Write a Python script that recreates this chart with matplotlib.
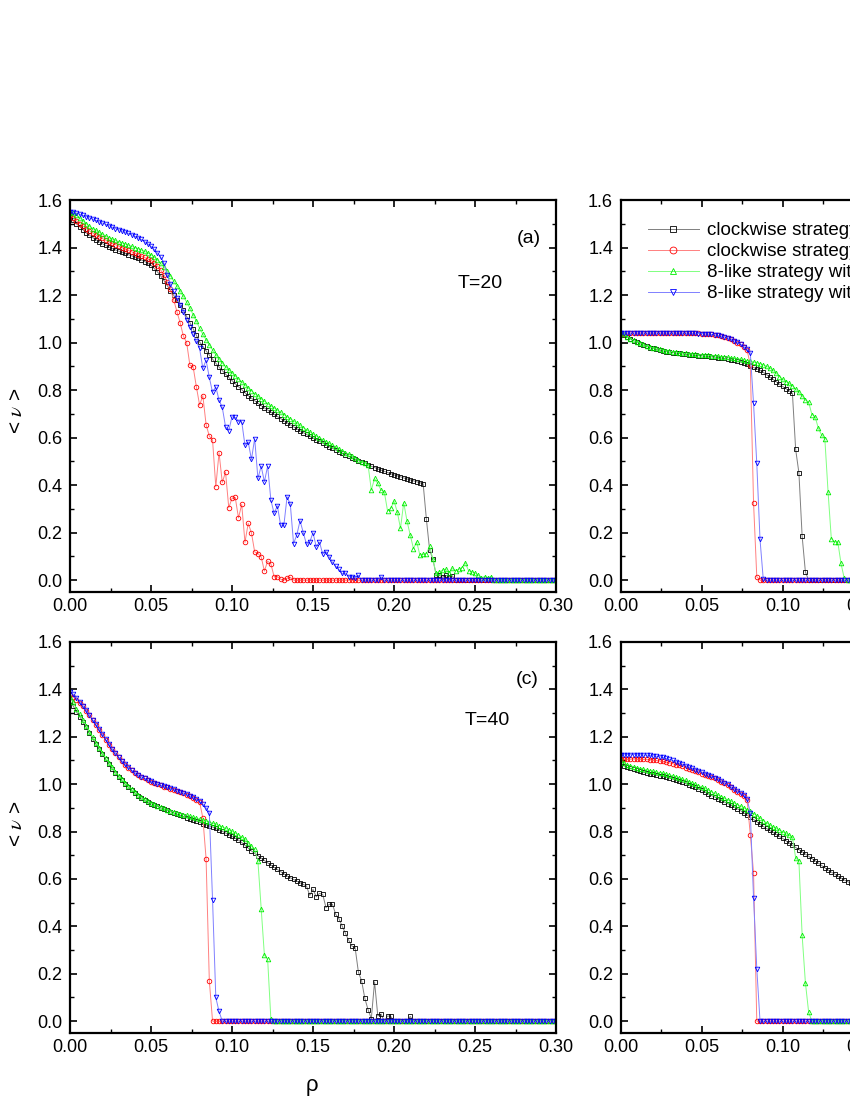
import numpy as np
import matplotlib
matplotlib.use("Agg")
import matplotlib.pyplot as plt
from matplotlib.ticker import MultipleLocator, FormatStrFormatter

plt.rcParams['font.family'] = ['Liberation Sans', 'DejaVu Sans']
plt.rcParams['mathtext.fontset'] = 'stix'

# density grid (step 0.002); right-hand panels are only visible up to ~0.14
rho = np.linspace(0.0, 0.30, 151)
rho_r = rho[:72]

labels = ['clockwise strategy without prediction',
          'clockwise strategy with prediction',
          '8-like strategy without prediction',
          '8-like strategy with prediction']

# ---- panel (a), T=20
black_a = [1.530, 1.515, 1.500, 1.488, 1.475, 1.462, 1.452, 1.442, 1.433, 1.424,
           1.416, 1.409, 1.402, 1.396, 1.390, 1.385, 1.380, 1.375, 1.370, 1.365,
           1.360, 1.354, 1.348, 1.341, 1.334, 1.325, 1.312, 1.297, 1.280, 1.261,
           1.240, 1.219, 1.199, 1.178, 1.157, 1.135, 1.110, 1.084, 1.058, 1.030,
           1.003, 0.984, 0.965, 0.947, 0.930, 0.913, 0.897, 0.882, 0.867, 0.853,
           0.840, 0.827, 0.814, 0.802, 0.789, 0.777, 0.766, 0.755, 0.745, 0.735,
           0.725, 0.716, 0.707, 0.698, 0.689, 0.680, 0.671, 0.663, 0.654, 0.645,
           0.637, 0.629, 0.621, 0.613, 0.606, 0.598, 0.591, 0.584, 0.577, 0.569,
           0.562, 0.555, 0.548, 0.541, 0.535, 0.528, 0.522, 0.516, 0.509, 0.503,
           0.497, 0.491, 0.485, 0.479, 0.474, 0.468, 0.463, 0.458, 0.453, 0.448,
           0.443, 0.439, 0.435, 0.430, 0.426, 0.422, 0.418, 0.414, 0.410, 0.405,
           0.256, 0.126, 0.088, 0.021, 0.020, 0.012, 0.020, 0.015, 0.018] + [0.0] * 32
red_a = [1.537, 1.525, 1.512, 1.500, 1.490, 1.480, 1.470, 1.461, 1.453, 1.445,
         1.438, 1.431, 1.424, 1.418, 1.412, 1.406, 1.400, 1.394, 1.388, 1.382,
         1.376, 1.370, 1.364, 1.358, 1.352, 1.346, 1.336, 1.322, 1.305, 1.285,
         1.255, 1.225, 1.180, 1.130, 1.083, 1.027, 1.000, 0.905, 0.898, 0.814,
         0.737, 0.776, 0.655, 0.606, 0.589, 0.393, 0.536, 0.411, 0.455, 0.305,
         0.344, 0.348, 0.262, 0.319, 0.159, 0.239, 0.199, 0.119, 0.112, 0.098,
         0.038, 0.080, 0.069, 0.014, 0.015, 0.004, 0.0, 0.008, 0.012] + [0.0] * 82
green_a = [1.550, 1.545, 1.535, 1.525, 1.512, 1.500, 1.490, 1.480, 1.472, 1.464,
           1.456, 1.449, 1.442, 1.436, 1.430, 1.425, 1.420, 1.415, 1.410, 1.405,
           1.400, 1.395, 1.390, 1.384, 1.377, 1.370, 1.360, 1.347, 1.333, 1.318,
           1.300, 1.280, 1.259, 1.238, 1.216, 1.194, 1.170, 1.145, 1.118, 1.090,
           1.060, 1.035, 1.012, 0.990, 0.969, 0.949, 0.931, 0.914, 0.899, 0.885,
           0.872, 0.859, 0.846, 0.834, 0.821, 0.808, 0.797, 0.785, 0.774, 0.763,
           0.753, 0.743, 0.734, 0.725, 0.716, 0.706, 0.697, 0.688, 0.679, 0.670,
           0.660, 0.651, 0.642, 0.633, 0.624, 0.615, 0.607, 0.599, 0.591, 0.583,
           0.576, 0.568, 0.561, 0.553, 0.545, 0.537, 0.530, 0.522, 0.514, 0.506,
           0.498, 0.492, 0.484, 0.379, 0.428, 0.407, 0.379, 0.372, 0.292, 0.302,
           0.333, 0.288, 0.218, 0.326, 0.250, 0.190, 0.133, 0.161, 0.105, 0.108,
           0.112, 0.143, 0.088, 0.028, 0.035, 0.042, 0.045, 0.030, 0.049, 0.040,
           0.045, 0.053, 0.073, 0.040, 0.035, 0.030, 0.020, 0.010, 0.015, 0.010,
           0.015] + [0.0] * 20
blue_a = [1.550, 1.548, 1.545, 1.540, 1.535, 1.530, 1.525, 1.520, 1.514, 1.508,
          1.503, 1.498, 1.492, 1.486, 1.480, 1.475, 1.470, 1.465, 1.460, 1.454,
          1.448, 1.441, 1.434, 1.425, 1.416, 1.405, 1.392, 1.377, 1.360, 1.335,
          1.285, 1.245, 1.215, 1.188, 1.160, 1.128, 1.095, 1.065, 1.035, 1.005,
          0.975, 0.891, 0.926, 0.853, 0.790, 0.814, 0.758, 0.727, 0.646, 0.629,
          0.688, 0.685, 0.667, 0.667, 0.568, 0.582, 0.508, 0.596, 0.428, 0.480,
          0.414, 0.480, 0.337, 0.281, 0.313, 0.232, 0.230, 0.351, 0.319, 0.154,
          0.190, 0.250, 0.200, 0.150, 0.160, 0.200, 0.140, 0.160, 0.110, 0.120,
          0.098, 0.075, 0.059, 0.045, 0.028, 0.030, 0.015, 0.015, 0.010, 0.020,
          0.0, 0.0, 0.0, 0.0, 0.0, 0.0, 0.014] + [0.0] * 54

# ---- panel (b)
black_b = [1.040, 1.030, 1.022, 1.015, 1.008, 1.002, 0.995, 0.989, 0.984, 0.979,
           0.975, 0.971, 0.968, 0.965, 0.962, 0.960, 0.958, 0.956, 0.954, 0.952,
           0.950, 0.949, 0.948, 0.946, 0.945, 0.944, 0.943, 0.942, 0.940, 0.939,
           0.937, 0.935, 0.933, 0.930, 0.928, 0.925, 0.922, 0.918, 0.914, 0.908,
           0.900, 0.895, 0.889, 0.883, 0.875, 0.865, 0.855, 0.845, 0.835, 0.825,
           0.815, 0.806, 0.797, 0.786, 0.550, 0.452, 0.185, 0.035] + [0.0] * 14
red_b = [1.035, 1.038, 1.040, 1.040, 1.041, 1.040, 1.040, 1.041, 1.040, 1.040,
         1.040, 1.041, 1.040, 1.040, 1.040, 1.040, 1.041, 1.040, 1.040, 1.040,
         1.040, 1.040, 1.039, 1.039, 1.039, 1.038, 1.037, 1.036, 1.034, 1.032,
         1.030, 1.027, 1.024, 1.020, 1.015, 1.008, 1.000, 0.992, 0.982, 0.970,
         0.905, 0.326, 0.014] + [0.0] * 29
green_b = [1.045, 1.035, 1.025, 1.017, 1.010, 1.004, 0.998, 0.992, 0.987, 0.982,
           0.978, 0.975, 0.972, 0.969, 0.966, 0.964, 0.962, 0.960, 0.958, 0.956,
           0.954, 0.953, 0.952, 0.950, 0.949, 0.948, 0.947, 0.946, 0.945, 0.944,
           0.943, 0.941, 0.940, 0.938, 0.936, 0.934, 0.932, 0.930, 0.927, 0.924,
           0.921, 0.918, 0.915, 0.911, 0.906, 0.900, 0.893, 0.883, 0.870, 0.857,
           0.845, 0.836, 0.828, 0.818, 0.804, 0.790, 0.775, 0.758, 0.750, 0.697,
           0.688, 0.639, 0.611, 0.596, 0.372, 0.175, 0.161, 0.161, 0.070, 0.007,
           0.0, 0.0]
blue_b = [1.040, 1.040, 1.041, 1.040, 1.040, 1.041, 1.040, 1.040, 1.040, 1.041,
          1.040, 1.040, 1.040, 1.040, 1.041, 1.040, 1.040, 1.040, 1.040, 1.040,
          1.040, 1.039, 1.039, 1.039, 1.038, 1.038, 1.037, 1.036, 1.034, 1.032,
          1.030, 1.027, 1.024, 1.020, 1.015, 1.008, 1.001, 0.993, 0.983, 0.971,
          0.957, 0.744, 0.491, 0.171, 0.004] + [0.0] * 27

# ---- panel (c), T=40
black_c = [1.350, 1.330, 1.305, 1.285, 1.262, 1.240, 1.215, 1.192, 1.170, 1.148,
           1.127, 1.105, 1.085, 1.066, 1.049, 1.032, 1.016, 1.001, 0.988, 0.975,
           0.963, 0.952, 0.942, 0.933, 0.925, 0.918, 0.912, 0.906, 0.900, 0.895,
           0.889, 0.884, 0.879, 0.874, 0.869, 0.864, 0.859, 0.854, 0.849, 0.844,
           0.839, 0.834, 0.829, 0.824, 0.819, 0.813, 0.807, 0.801, 0.794, 0.787,
           0.780, 0.772, 0.764, 0.754, 0.742, 0.730, 0.718, 0.708, 0.698, 0.688,
           0.678, 0.668, 0.659, 0.649, 0.640, 0.631, 0.622, 0.613, 0.605, 0.598,
           0.591, 0.584, 0.577, 0.570, 0.531, 0.556, 0.525, 0.539, 0.535, 0.479,
           0.493, 0.493, 0.451, 0.432, 0.401, 0.371, 0.342, 0.317, 0.310, 0.208,
           0.170, 0.096, 0.048, 0.011, 0.166, 0.022, 0.030, 0.0, 0.022, 0.020,
           0.0, 0.0, 0.0, 0.0, 0.0, 0.020] + [0.0] * 45
red_c = [1.375, 1.368, 1.355, 1.342, 1.328, 1.310, 1.290, 1.270, 1.250, 1.230,
         1.208, 1.187, 1.167, 1.148, 1.130, 1.113, 1.097, 1.082, 1.069, 1.058,
         1.048, 1.039, 1.031, 1.024, 1.017, 1.011, 1.005, 1.000, 0.995, 0.990,
         0.986, 0.981, 0.977, 0.972, 0.967, 0.962, 0.956, 0.949, 0.942, 0.934,
         0.925, 0.858, 0.686, 0.170] + [0.0] * 107
green_c = [1.370, 1.345, 1.318, 1.295, 1.270, 1.247, 1.222, 1.198, 1.175, 1.153,
           1.132, 1.110, 1.090, 1.071, 1.053, 1.036, 1.020, 1.005, 0.991, 0.978,
           0.966, 0.955, 0.945, 0.936, 0.928, 0.921, 0.915, 0.909, 0.903, 0.898,
           0.893, 0.888, 0.884, 0.880, 0.876, 0.872, 0.868, 0.864, 0.860, 0.856,
           0.852, 0.848, 0.844, 0.840, 0.835, 0.830, 0.825, 0.820, 0.814, 0.808,
           0.801, 0.794, 0.786, 0.777, 0.767, 0.750, 0.738, 0.725, 0.675, 0.475,
           0.278, 0.261, 0.008] + [0.0] * 88
blue_c = [1.390, 1.380, 1.365, 1.348, 1.332, 1.313, 1.293, 1.272, 1.252, 1.231,
          1.210, 1.189, 1.169, 1.150, 1.132, 1.115, 1.099, 1.084, 1.071, 1.059,
          1.049, 1.040, 1.032, 1.025, 1.018, 1.012, 1.006, 1.001, 0.996, 0.991,
          0.987, 0.982, 0.978, 0.973, 0.968, 0.963, 0.957, 0.951, 0.944, 0.936,
          0.927, 0.916, 0.900, 0.879, 0.511, 0.100, 0.041] + [0.0] * 104

# ---- panel (d)
black_d = [1.090, 1.078, 1.071, 1.067, 1.062, 1.058, 1.054, 1.050, 1.047, 1.044,
           1.041, 1.038, 1.036, 1.033, 1.030, 1.026, 1.022, 1.017, 1.013, 1.008,
           1.003, 0.997, 0.992, 0.986, 0.980, 0.974, 0.967, 0.960, 0.952, 0.946,
           0.939, 0.932, 0.925, 0.918, 0.912, 0.904, 0.896, 0.888, 0.879, 0.870,
           0.861, 0.851, 0.841, 0.831, 0.822, 0.813, 0.805, 0.797, 0.788, 0.780,
           0.771, 0.761, 0.752, 0.742, 0.733, 0.724, 0.715, 0.705, 0.696, 0.686,
           0.677, 0.667, 0.657, 0.647, 0.638, 0.629, 0.621, 0.612, 0.604, 0.596,
           0.589, 0.582]
red_d = [1.105, 1.105, 1.106, 1.106, 1.107, 1.106, 1.106, 1.105, 1.105, 1.104,
         1.102, 1.100, 1.098, 1.096, 1.093, 1.090, 1.087, 1.083, 1.080, 1.075,
         1.070, 1.065, 1.060, 1.056, 1.051, 1.045, 1.040, 1.034, 1.029, 1.024,
         1.018, 1.011, 1.003, 0.996, 0.987, 0.977, 0.969, 0.960, 0.950, 0.935,
         0.787, 0.626] + [0.0] * 30
green_d = [1.100, 1.088, 1.082, 1.078, 1.074, 1.070, 1.066, 1.063, 1.060, 1.057,
           1.054, 1.051, 1.049, 1.046, 1.043, 1.039, 1.035, 1.031, 1.026, 1.021,
           1.016, 1.011, 1.005, 1.000, 0.994, 0.988, 0.982, 0.975, 0.968, 0.961,
           0.954, 0.948, 0.941, 0.934, 0.928, 0.921, 0.914, 0.907, 0.900, 0.893,
           0.885, 0.876, 0.867, 0.857, 0.846, 0.837, 0.828, 0.820, 0.813, 0.806,
           0.799, 0.792, 0.784, 0.776, 0.689, 0.675, 0.362, 0.163, 0.039] + [0.0] * 13
blue_d = [1.124, 1.124, 1.125, 1.124, 1.125, 1.124, 1.124, 1.123, 1.123, 1.122,
          1.120, 1.118, 1.116, 1.113, 1.109, 1.105, 1.100, 1.095, 1.089, 1.084,
          1.078, 1.072, 1.067, 1.061, 1.056, 1.050, 1.045, 1.039, 1.033, 1.028,
          1.022, 1.015, 1.007, 0.999, 0.990, 0.980, 0.972, 0.963, 0.954, 0.938,
          0.879, 0.521, 0.222] + [0.0] * 29

# marker, edge colour, line colour
styles = [('s', '#000000', '#7f7f7f'),
          ('o', '#ff0000', '#ff8080'),
          ('^', '#00ee00', '#80ff80'),
          ('v', '#0000ff', '#8080ff')]

fig = plt.figure(figsize=(8.5, 11), dpi=100)
W, H = 850.0, 1100.0
aw = 486 / W
ax_a = fig.add_axes([70 / W, 1 - 592 / H, aw, 392 / H])
ax_b = fig.add_axes([620.7 / W, 1 - 592 / H, aw, 392 / H])
ax_c = fig.add_axes([70 / W, 1 - 1033 / H, aw, 391 / H])
ax_d = fig.add_axes([620.7 / W, 1 - 1033 / H, aw, 391 / H])

panels = [(ax_a, rho, [black_a, red_a, green_a, blue_a]),
          (ax_b, rho_r, [black_b, red_b, green_b, blue_b]),
          (ax_c, rho, [black_c, red_c, green_c, blue_c]),
          (ax_d, rho_r, [black_d, red_d, green_d, blue_d])]

for ax, x, series in panels:
    for (m, ec, lc), y, lab in zip(styles, series, labels):
        ax.plot(x, y, color=lc, lw=0.7, marker=m, ms=3.3, mfc='none',
                mec=ec, mew=0.6, label=lab)
    ax.set_xlim(0, 0.30)
    ax.set_ylim(-0.05, 1.6)
    ax.xaxis.set_major_locator(MultipleLocator(0.05))
    ax.xaxis.set_minor_locator(MultipleLocator(0.025))
    ax.yaxis.set_major_locator(MultipleLocator(0.2))
    ax.yaxis.set_minor_locator(MultipleLocator(0.1))
    ax.xaxis.set_major_formatter(FormatStrFormatter('%.2f'))
    ax.yaxis.set_major_formatter(FormatStrFormatter('%.1f'))
    ax.tick_params(which='both', direction='in', top=True, right=True)
    ax.tick_params(which='major', length=5, width=1.2, labelsize=13)
    ax.tick_params(which='minor', length=3, width=1.0)
    ax.tick_params(axis='x', pad=4.5)
    ax.tick_params(axis='y', pad=5.5)
    for s in ax.spines.values():
        s.set_linewidth(1.6)

ax_a.text(0.944, 0.903, '(a)', transform=ax_a.transAxes, fontsize=14, ha='center', va='center')
ax_a.text(0.844, 0.788, 'T=20', transform=ax_a.transAxes, fontsize=14, ha='center', va='center')
ax_b.text(0.944, 0.903, '(b)', transform=ax_b.transAxes, fontsize=14, ha='center', va='center')
ax_c.text(0.940, 0.903, '(c)', transform=ax_c.transAxes, fontsize=14, ha='center', va='center')
ax_c.text(0.858, 0.800, 'T=40', transform=ax_c.transAxes, fontsize=14, ha='center', va='center')
ax_d.text(0.944, 0.903, '(d)', transform=ax_d.transAxes, fontsize=14, ha='center', va='center')

ax_b.legend(loc='upper left', bbox_to_anchor=(0.056, 0.943), frameon=False,
            fontsize=13.5, markerscale=1.5, handlelength=2.7, handletextpad=0.45,
            borderpad=0, borderaxespad=0, labelspacing=0.2)

fig.text(17 / W, 1 - 411 / H, r'< $\nu$ >', rotation=90, fontsize=15,
         ha='center', va='center')
fig.text(17 / W, 1 - 824 / H, r'< $\nu$ >', rotation=90, fontsize=15,
         ha='center', va='center')
fig.text(312 / W, 1 - 1085 / H, 'ρ', fontsize=16, ha='center', va='center')

fig.savefig('out.png', dpi=100)
